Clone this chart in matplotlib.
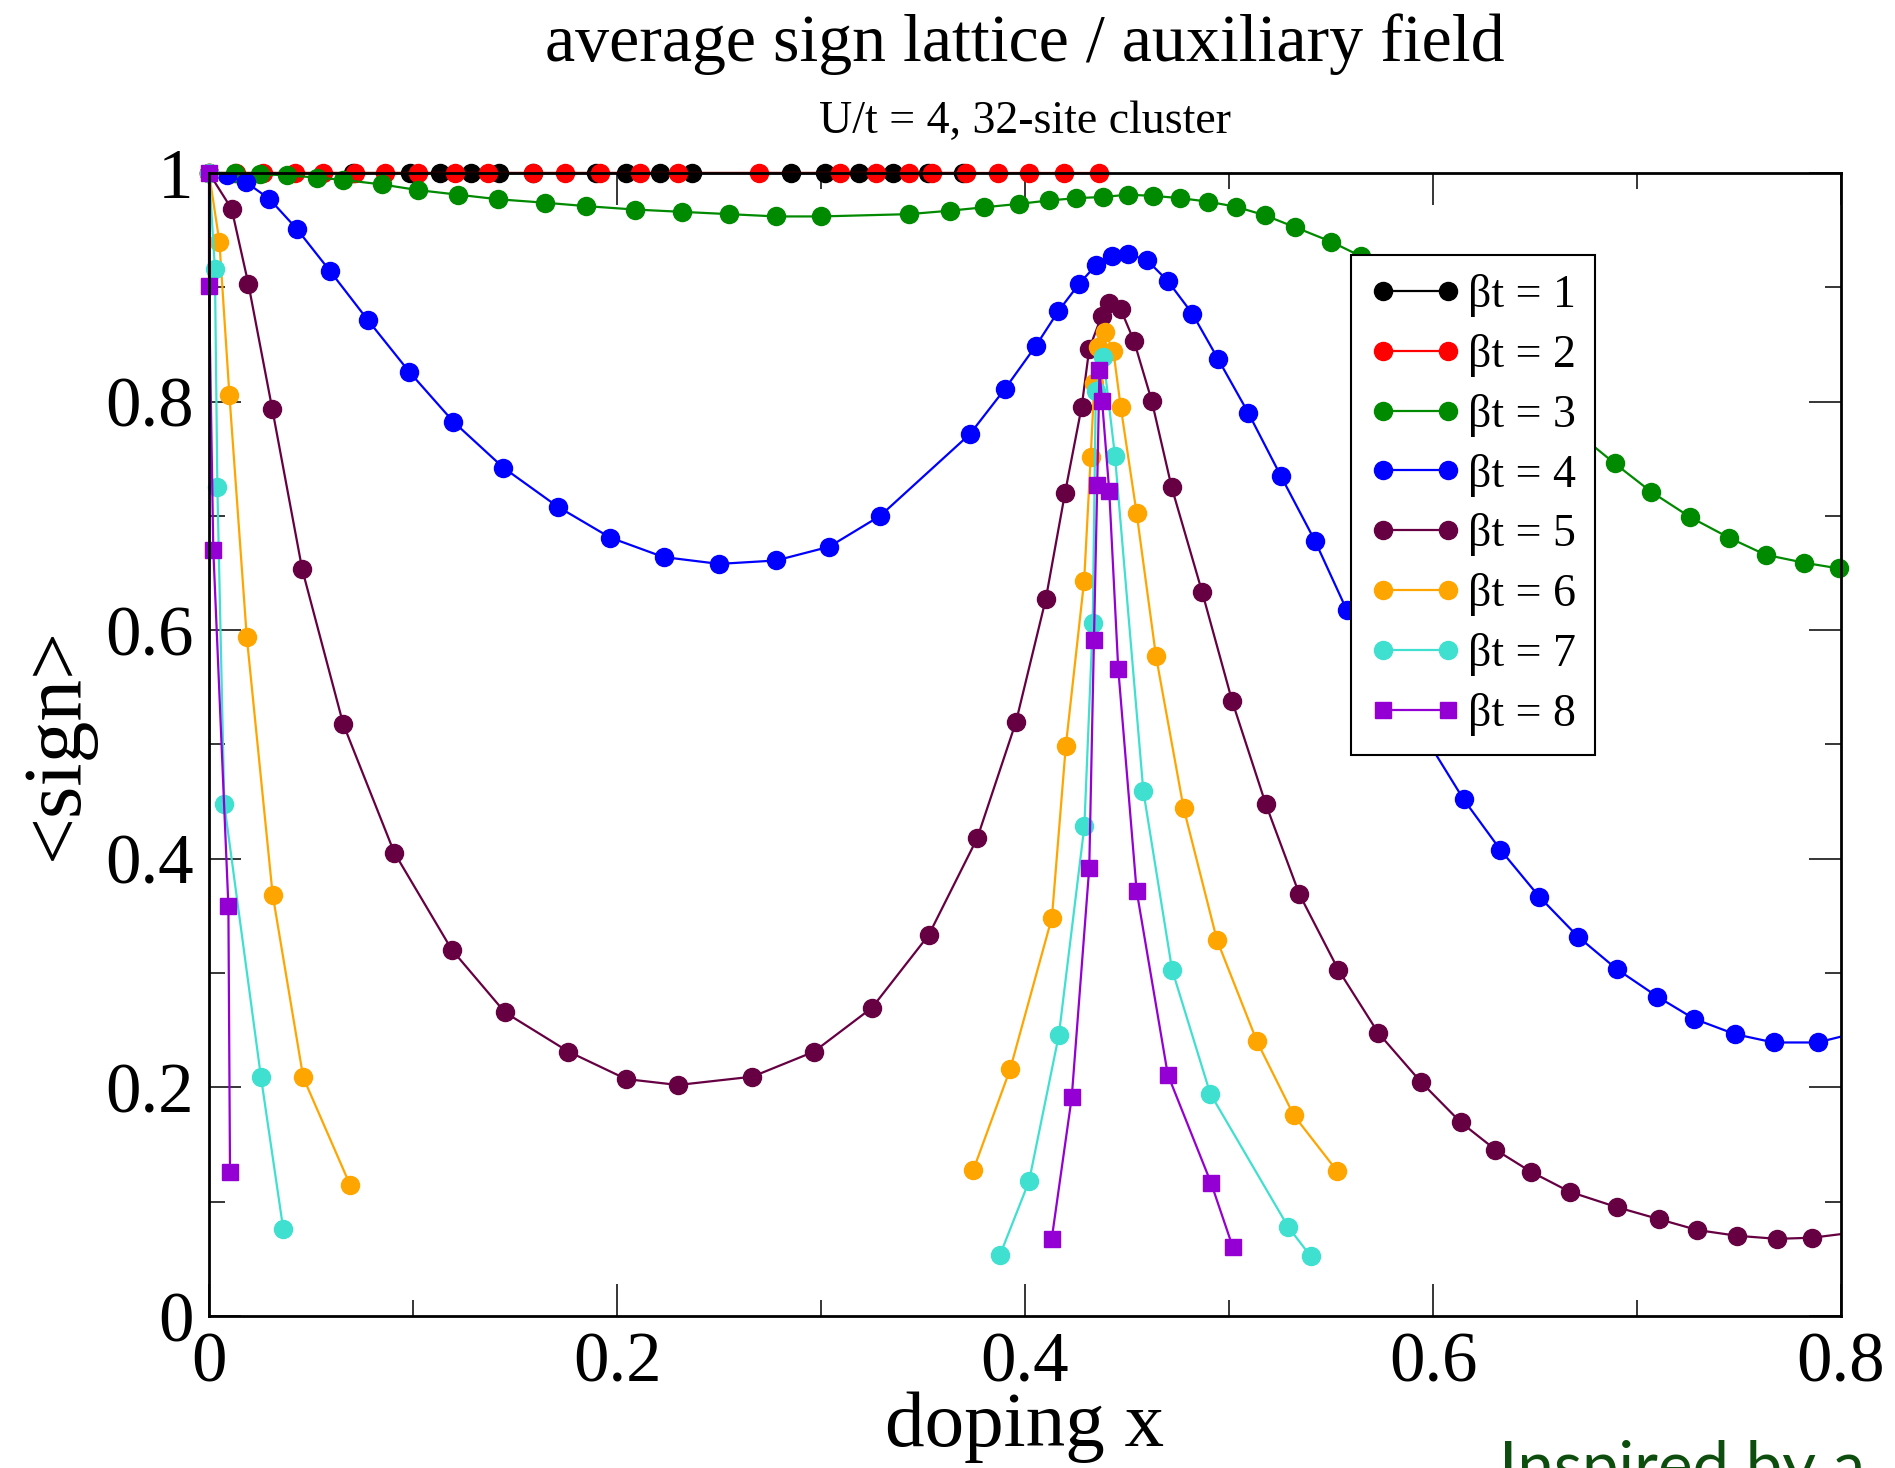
import matplotlib
matplotlib.use('Agg')
import matplotlib.pyplot as plt
from matplotlib.ticker import MultipleLocator, FuncFormatter

plt.rcParams['font.family'] = ['Liberation Serif', 'DejaVu Serif']

# beta t = 1 and 2 stay at <sign> = 1
x_b1 = [0, 0.0705, 0.0986, 0.1133, 0.1283, 0.1424, 0.1587, 0.1899, 0.2046, 0.2212,
        0.2368, 0.2853, 0.3018, 0.3187, 0.3353, 0.3525, 0.3696]
y_b1 = [1.0] * len(x_b1)

x_b2 = [0, 0.0133, 0.0267, 0.0424, 0.0561, 0.0718, 0.0861, 0.1024, 0.1205, 0.1368,
        0.1587, 0.1743, 0.1915, 0.2112, 0.2299, 0.2696, 0.3093, 0.3269, 0.3431, 0.3544,
        0.3712, 0.3869, 0.4019, 0.4191, 0.4363]
y_b2 = [1.0] * len(x_b2)

x_b3 = [0, 0.0127, 0.025, 0.038, 0.0528, 0.0658, 0.0847, 0.1026, 0.1222, 0.1418,
        0.1647, 0.185, 0.209, 0.232, 0.255, 0.278, 0.300, 0.343, 0.363, 0.380,
        0.397, 0.412, 0.425, 0.438, 0.4504, 0.4629, 0.476, 0.4895, 0.5034, 0.5176,
        0.5325, 0.5499, 0.5648, 0.689, 0.707, 0.726, 0.745, 0.763, 0.782, 0.799]
y_b3 = [1.0, 1.0, 0.999, 0.998, 0.996, 0.994, 0.990, 0.985, 0.981, 0.977,
        0.974, 0.971, 0.968, 0.966, 0.964, 0.962, 0.962, 0.964, 0.967, 0.970,
        0.973, 0.976, 0.978, 0.979, 0.981, 0.980, 0.978, 0.975, 0.9705, 0.963,
        0.9525, 0.940, 0.927, 0.746, 0.721, 0.699, 0.681, 0.666, 0.659, 0.654]

x_b4 = [0, 0.009, 0.0181, 0.0296, 0.043, 0.0593, 0.0778, 0.0982, 0.1198, 0.1443,
        0.1709, 0.1967, 0.2228, 0.250, 0.278, 0.304, 0.329, 0.373, 0.3902, 0.4054,
        0.4163, 0.4266, 0.4347, 0.4425, 0.4503, 0.4597, 0.470, 0.482, 0.4945, 0.5095,
        0.5253, 0.5422, 0.5577, 0.615, 0.633, 0.652, 0.671, 0.690, 0.710, 0.728,
        0.748, 0.767, 0.7885, 0.808]
y_b4 = [1.0, 0.998, 0.992, 0.9773, 0.9512, 0.9143, 0.8715, 0.826, 0.7824, 0.7422,
        0.7081, 0.681, 0.664, 0.658, 0.661, 0.673, 0.700, 0.7716, 0.8112, 0.849,
        0.879, 0.9032, 0.9192, 0.927, 0.929, 0.924, 0.9055, 0.877, 0.8377, 0.790,
        0.7353, 0.678, 0.6177, 0.452, 0.408, 0.367, 0.332, 0.3036, 0.2794, 0.260,
        0.2466, 0.2393, 0.2393, 0.248]

x_b5 = [0, 0.0111, 0.0193, 0.031, 0.0457, 0.0658, 0.0908, 0.119, 0.1451, 0.1761,
        0.2045, 0.2299, 0.2664, 0.2965, 0.325, 0.3528, 0.3766, 0.3956, 0.4102, 0.4196,
        0.4278, 0.4315, 0.4376, 0.4413, 0.4469, 0.4534, 0.4621, 0.4719, 0.4869, 0.5016,
        0.518, 0.5345, 0.5536, 0.5732, 0.5939, 0.6135, 0.6306, 0.6478, 0.667, 0.690,
        0.711, 0.7296, 0.749, 0.7686, 0.786, 0.806]
y_b5 = [1.0, 0.9686, 0.903, 0.7937, 0.6532, 0.5179, 0.4055, 0.3205, 0.2656, 0.2314,
        0.2073, 0.2021, 0.2094, 0.2312, 0.2697, 0.3333, 0.4181, 0.5199, 0.6273, 0.7199,
        0.7957, 0.8463, 0.8751, 0.8865, 0.8808, 0.8532, 0.8009, 0.725, 0.633, 0.5377,
        0.448, 0.369, 0.3029, 0.2476, 0.2051, 0.1696, 0.1455, 0.1264, 0.1087, 0.0953,
        0.0846, 0.0752, 0.0702, 0.0675, 0.0685, 0.073]

# beta t = 6, 7, 8 come in two pieces (near x=0 and around the peak)
x_b6_low = [0, 0.0051, 0.01, 0.0185, 0.0312, 0.0462, 0.0691]
y_b6_low = [1.0, 0.9398, 0.8059, 0.5944, 0.3687, 0.2087, 0.1149]
x_b6_high = [0.3747, 0.3927, 0.4132, 0.420, 0.429, 0.4322, 0.434, 0.4358, 0.4392, 0.4433,
             0.4469, 0.4547, 0.4642, 0.4777, 0.4941, 0.5137, 0.5318, 0.5529]
y_b6_high = [0.1279, 0.2158, 0.3486, 0.4986, 0.6434, 0.7514, 0.8165, 0.848, 0.8606, 0.8445,
             0.7957, 0.7026, 0.5774, 0.4447, 0.329, 0.2403, 0.1755, 0.1271]

x_b7_low = [0, 0.0029, 0.0041, 0.0075, 0.0255, 0.0364]
y_b7_low = [1.0, 0.9164, 0.7256, 0.4477, 0.2087, 0.0761]
x_b7_high = [0.3877, 0.402, 0.4166, 0.4291, 0.4332, 0.4347, 0.4384, 0.4441, 0.458, 0.4721,
             0.4908, 0.5291, 0.540]
y_b7_high = [0.0532, 0.118, 0.2458, 0.4285, 0.606, 0.809, 0.8389, 0.7526, 0.4594, 0.303,
             0.1946, 0.0777, 0.0524]

x_b8_low = [0, 0, 0.0021, 0.0095, 0.0103]
y_b8_low = [1.0, 0.901, 0.6706, 0.359, 0.1262]
x_b8_high = [0.4131, 0.4229, 0.4315, 0.4338, 0.4354, 0.4365, 0.4378, 0.4413, 0.4457, 0.4547,
             0.470, 0.4912, 0.5018]
y_b8_high = [0.0675, 0.1912, 0.3923, 0.5917, 0.7268, 0.8273, 0.8003, 0.7216, 0.5664, 0.3722,
             0.2112, 0.1164, 0.0606]

labels = ['βt = 1', 'βt = 2', 'βt = 3', 'βt = 4', 'βt = 5', 'βt = 6', 'βt = 7', 'βt = 8']
colors = ['black', '#ff0000', '#008a00', '#0000ff', '#660042', '#ffa500', '#40e0d0', '#9400d3']

series = [
    [(x_b1, y_b1)],
    [(x_b2, y_b2)],
    [(x_b3, y_b3)],
    [(x_b4, y_b4)],
    [(x_b5, y_b5)],
    [(x_b6_low, y_b6_low), (x_b6_high, y_b6_high)],
    [(x_b7_low, y_b7_low), (x_b7_high, y_b7_high)],
    [(x_b8_low, y_b8_low), (x_b8_high, y_b8_high)],
]

fig = plt.figure(figsize=(18.95, 14.68), dpi=100)
ax = fig.add_axes([209 / 1895, 1 - 1316 / 1468, 1632 / 1895, 1143 / 1468])

handles = []
for i, parts in enumerate(series):
    marker = 's' if i == 7 else 'o'
    ms = 12 if i == 7 else 13
    # blue and maroon run past x = 0.8, so those get clipped
    clip = i in (3, 4)
    for j, (xs, ys) in enumerate(parts):
        ln, = ax.plot(xs, ys, color=colors[i], marker=marker, markersize=ms,
                      linewidth=1.6, clip_on=clip,
                      label=labels[i] if j == 0 else '_nolegend_')
        if j == 0:
            handles.append(ln)

ax.set_xlim(0, 0.8)
ax.set_ylim(0, 1)
ax.xaxis.set_major_locator(MultipleLocator(0.2))
ax.xaxis.set_minor_locator(MultipleLocator(0.1))
ax.yaxis.set_major_locator(MultipleLocator(0.2))
ax.yaxis.set_minor_locator(MultipleLocator(0.1))
fmt = FuncFormatter(lambda v, p: f'{v:g}')
ax.xaxis.set_major_formatter(fmt)
ax.yaxis.set_major_formatter(fmt)
ax.tick_params(which='both', direction='in', top=True, right=True)
ax.tick_params(which='major', length=23, width=1.1, labelsize=51, pad=11)
ax.tick_params(which='minor', length=11.5, width=1.1)
for s in ax.spines.values():
    s.set_linewidth(2)

leg = ax.legend(handles=handles, loc='upper left', bbox_to_anchor=(0.700, 0.928),
                borderaxespad=0, fontsize=33, numpoints=2, handlelength=2.0,
                handletextpad=0.15, borderpad=0.4, labelspacing=0.37,
                fancybox=False, framealpha=1, edgecolor='black')
leg.get_frame().set_linewidth(1.5)

fig.text(1025 / 1895, 1 - 61 / 1468, 'average sign lattice / auxiliary field',
         ha='center', va='baseline', fontsize=49)
fig.text(1025 / 1895, 1 - 133 / 1468, 'U/t = 4, 32-site cluster',
         ha='center', va='baseline', fontsize=33)
fig.text(1025 / 1895, 1 - 1446 / 1468, 'doping x', ha='center', va='baseline', fontsize=57)
fig.text(57 / 1895, 1 - 743 / 1468, '<sign>', ha='center', va='center',
         rotation=90, fontsize=60)
# the credit line runs off the bottom/right edge, as in the original
fig.text(1499 / 1895, 1 - 1440 / 1468, 'Inspired by a', ha='left', va='top',
         fontsize=47, color='#0d4d0d', family=['Lato', 'DejaVu Sans'])

plt.savefig('out.png', dpi=100)
